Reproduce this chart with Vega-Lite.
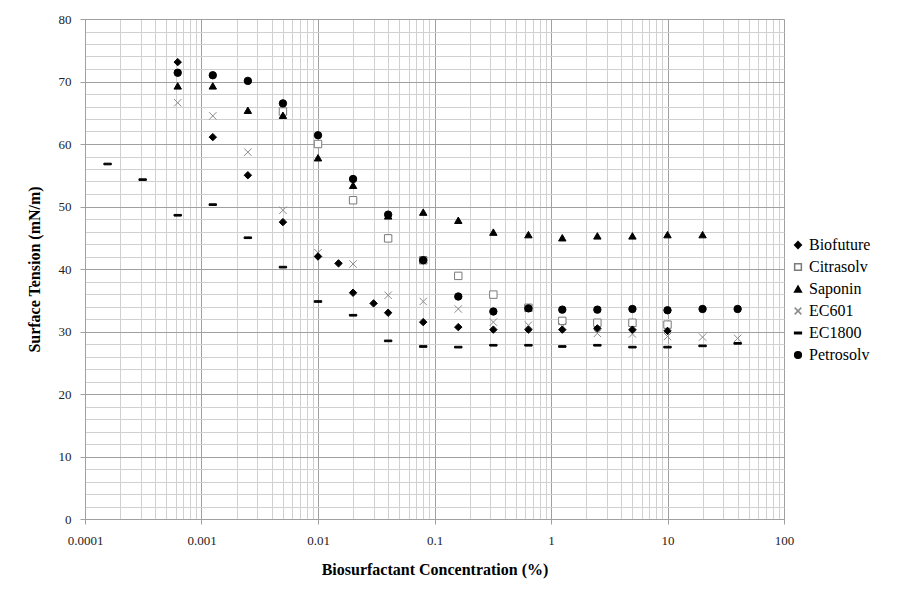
{
  "$schema": "https://vega.github.io/schema/vega-lite/v6.json",
  "width": 699,
  "height": 500,
  "autosize": {"type": "none"},
  "padding": {"left": 85, "top": 19, "right": 127, "bottom": 76},
  "background": "white",
  "config": {
    "view": {"stroke": null},
    "font": "'Liberation Serif', 'Times New Roman', serif",
    "axis": {"labelFont": "'Liberation Serif', 'Times New Roman', serif", "titleFont": "'Liberation Serif', 'Times New Roman', serif", "labelColor": "#222222", "titleColor": "black"},
    "legend": {"labelFont": "'Liberation Serif', 'Times New Roman', serif"}
  },
  "data": {"values": [
    {"series": "Citrasolv", "conc": 0.005, "st": 65.2},
    {"series": "Citrasolv", "conc": 0.01, "st": 60.0},
    {"series": "Citrasolv", "conc": 0.02, "st": 51.0},
    {"series": "Citrasolv", "conc": 0.04, "st": 44.9},
    {"series": "Citrasolv", "conc": 0.08, "st": 41.4},
    {"series": "Citrasolv", "conc": 0.16, "st": 38.9},
    {"series": "Citrasolv", "conc": 0.32, "st": 35.9},
    {"series": "Citrasolv", "conc": 0.64, "st": 33.8},
    {"series": "Citrasolv", "conc": 1.25, "st": 31.7},
    {"series": "Citrasolv", "conc": 2.5, "st": 31.4},
    {"series": "Citrasolv", "conc": 5, "st": 31.4},
    {"series": "Citrasolv", "conc": 10, "st": 31.1},
    {"series": "EC601", "conc": 0.000625, "st": 66.6},
    {"series": "EC601", "conc": 0.00125, "st": 64.5},
    {"series": "EC601", "conc": 0.0025, "st": 58.7},
    {"series": "EC601", "conc": 0.005, "st": 49.4},
    {"series": "EC601", "conc": 0.01, "st": 42.6},
    {"series": "EC601", "conc": 0.02, "st": 40.8},
    {"series": "EC601", "conc": 0.04, "st": 35.8},
    {"series": "EC601", "conc": 0.08, "st": 34.8},
    {"series": "EC601", "conc": 0.16, "st": 33.6},
    {"series": "EC601", "conc": 0.32, "st": 31.5},
    {"series": "EC601", "conc": 0.64, "st": 31.0},
    {"series": "EC601", "conc": 1.25, "st": 30.8},
    {"series": "EC601", "conc": 2.5, "st": 29.7},
    {"series": "EC601", "conc": 5, "st": 29.6},
    {"series": "EC601", "conc": 10, "st": 29.2},
    {"series": "EC601", "conc": 20, "st": 29.1},
    {"series": "EC601", "conc": 40, "st": 28.9},
    {"series": "EC1800", "conc": 0.00015625, "st": 56.8},
    {"series": "EC1800", "conc": 0.0003125, "st": 54.3},
    {"series": "EC1800", "conc": 0.000625, "st": 48.6},
    {"series": "EC1800", "conc": 0.00125, "st": 50.3},
    {"series": "EC1800", "conc": 0.0025, "st": 45.0},
    {"series": "EC1800", "conc": 0.005, "st": 40.3},
    {"series": "EC1800", "conc": 0.01, "st": 34.8},
    {"series": "EC1800", "conc": 0.02, "st": 32.6},
    {"series": "EC1800", "conc": 0.04, "st": 28.5},
    {"series": "EC1800", "conc": 0.08, "st": 27.6},
    {"series": "EC1800", "conc": 0.16, "st": 27.5},
    {"series": "EC1800", "conc": 0.32, "st": 27.8},
    {"series": "EC1800", "conc": 0.64, "st": 27.8},
    {"series": "EC1800", "conc": 1.25, "st": 27.6},
    {"series": "EC1800", "conc": 2.5, "st": 27.8},
    {"series": "EC1800", "conc": 5, "st": 27.5},
    {"series": "EC1800", "conc": 10, "st": 27.5},
    {"series": "EC1800", "conc": 20, "st": 27.7},
    {"series": "EC1800", "conc": 40, "st": 28.1},
    {"series": "Saponin", "conc": 0.000625, "st": 69.3},
    {"series": "Saponin", "conc": 0.00125, "st": 69.3},
    {"series": "Saponin", "conc": 0.0025, "st": 65.4},
    {"series": "Saponin", "conc": 0.005, "st": 64.6},
    {"series": "Saponin", "conc": 0.01, "st": 57.8},
    {"series": "Saponin", "conc": 0.02, "st": 53.4},
    {"series": "Saponin", "conc": 0.04, "st": 48.5},
    {"series": "Saponin", "conc": 0.08, "st": 49.1},
    {"series": "Saponin", "conc": 0.16, "st": 47.8},
    {"series": "Saponin", "conc": 0.32, "st": 45.9},
    {"series": "Saponin", "conc": 0.64, "st": 45.5},
    {"series": "Saponin", "conc": 1.25, "st": 45.0},
    {"series": "Saponin", "conc": 2.5, "st": 45.3},
    {"series": "Saponin", "conc": 5, "st": 45.3},
    {"series": "Saponin", "conc": 10, "st": 45.5},
    {"series": "Saponin", "conc": 20, "st": 45.5},
    {"series": "Biofuture", "conc": 0.000625, "st": 73.1},
    {"series": "Biofuture", "conc": 0.00125, "st": 61.1},
    {"series": "Biofuture", "conc": 0.0025, "st": 55.0},
    {"series": "Biofuture", "conc": 0.005, "st": 47.5},
    {"series": "Biofuture", "conc": 0.01, "st": 42.0},
    {"series": "Biofuture", "conc": 0.015, "st": 40.9},
    {"series": "Biofuture", "conc": 0.02, "st": 36.2},
    {"series": "Biofuture", "conc": 0.03, "st": 34.5},
    {"series": "Biofuture", "conc": 0.04, "st": 33.0},
    {"series": "Biofuture", "conc": 0.08, "st": 31.5},
    {"series": "Biofuture", "conc": 0.16, "st": 30.7},
    {"series": "Biofuture", "conc": 0.32, "st": 30.3},
    {"series": "Biofuture", "conc": 0.64, "st": 30.3},
    {"series": "Biofuture", "conc": 1.25, "st": 30.3},
    {"series": "Biofuture", "conc": 2.5, "st": 30.5},
    {"series": "Biofuture", "conc": 5, "st": 30.3},
    {"series": "Biofuture", "conc": 10, "st": 30.1},
    {"series": "Petrosolv", "conc": 0.000625, "st": 71.4},
    {"series": "Petrosolv", "conc": 0.00125, "st": 71.0},
    {"series": "Petrosolv", "conc": 0.0025, "st": 70.1},
    {"series": "Petrosolv", "conc": 0.005, "st": 66.5},
    {"series": "Petrosolv", "conc": 0.01, "st": 61.4},
    {"series": "Petrosolv", "conc": 0.02, "st": 54.4},
    {"series": "Petrosolv", "conc": 0.04, "st": 48.7},
    {"series": "Petrosolv", "conc": 0.08, "st": 41.4},
    {"series": "Petrosolv", "conc": 0.16, "st": 35.6},
    {"series": "Petrosolv", "conc": 0.32, "st": 33.2},
    {"series": "Petrosolv", "conc": 0.64, "st": 33.7},
    {"series": "Petrosolv", "conc": 1.25, "st": 33.5},
    {"series": "Petrosolv", "conc": 2.5, "st": 33.5},
    {"series": "Petrosolv", "conc": 5, "st": 33.6},
    {"series": "Petrosolv", "conc": 10, "st": 33.4},
    {"series": "Petrosolv", "conc": 20, "st": 33.6},
    {"series": "Petrosolv", "conc": 40, "st": 33.6}
  ]},
  "mark": {"type": "point", "size": 55, "strokeWidth": 1, "opacity": 1},
  "encoding": {
    "x": {
      "field": "conc", "type": "quantitative",
      "scale": {"type": "log", "domain": [0.0001, 100], "nice": false},
      "axis": {
        "title": "Biosurfactant Concentration (%)",
        "titleFontSize": 16, "titleFontWeight": "bold", "titlePadding": 14,
        "labelFontSize": 13, "labelPadding": 10, "labelOverlap": false, "labelBound": false, "labelFlush": false,
        "format": "~g",
        "values": [0.0001,0.0002,0.0003,0.0004,0.0005,0.0006,0.0007,0.0008,0.0009,0.001,0.002,0.003,0.004,0.005,0.006,0.007,0.008,0.009,0.01,0.02,0.03,0.04,0.05,0.06,0.07,0.08,0.09,0.1,0.2,0.3,0.4,0.5,0.6,0.7,0.8,0.9,1,2,3,4,5,6,7,8,9,10,20,30,40,50,60,70,80,90,100],
        "labelExpr": "indexof([0.0001,0.001,0.01,0.1,1,10,100], datum.value) >= 0 ? format(datum.value, '~g') : ''",
        "grid": true,
        "gridColor": {"condition": {"test": "indexof([0.0001,0.001,0.01,0.1,1,10,100], datum.value) >= 0", "value": "#a0a0a0"}, "value": "#d0d0d0"},
        "gridWidth": 1,
        "ticks": true, "tickSize": 5,
        "tickColor": {"condition": {"test": "indexof([0.0001,0.001,0.01,0.1,1,10,100], datum.value) >= 0", "value": "#a0a0a0"}, "value": "transparent"},
        "domainColor": "#a0a0a0"
      }
    },
    "y": {
      "field": "st", "type": "quantitative",
      "scale": {"domain": [0, 80], "nice": false, "zero": true},
      "axis": {
        "title": "Surface Tension (mN/m)",
        "titleFontSize": 16, "titleFontWeight": "bold", "titlePadding": 16,
        "labelFontSize": 13, "labelPadding": 9, "labelOverlap": false, "labelBound": false,
        "values": [0,2,4,6,8,10,12,14,16,18,20,22,24,26,28,30,32,34,36,38,40,42,44,46,48,50,52,54,56,58,60,62,64,66,68,70,72,74,76,78,80],
        "labelExpr": "datum.value % 10 === 0 ? datum.label : ''",
        "grid": true,
        "gridColor": {"condition": {"test": "datum.value % 10 === 0", "value": "#a0a0a0"}, "value": "#d0d0d0"},
        "ticks": true, "tickSize": 5,
        "tickColor": {"condition": {"test": "datum.value % 10 === 0", "value": "#a0a0a0"}, "value": "transparent"},
        "domainColor": "#a0a0a0"
      }
    },
    "shape": {
      "field": "series", "type": "nominal",
      "scale": {
        "domain": ["Biofuture", "Citrasolv", "Saponin", "EC601", "EC1800", "Petrosolv"],
        "range": ["diamond", "square", "triangle-up", "M-1,-1L1,1M-1,1L1,-1", "M-1,-0.22L1,-0.22L1,0.22L-1,0.22Z", "circle"]
      },
      "legend": {
        "title": null, "orient": "none", "legendX": 705, "legendY": 218,
        "labelFontSize": 16, "labelColor": "black", "symbolSize": 45, "rowPadding": 6, "padding": 0, "labelOffset": 3
      }
    },
    "fill": {
      "field": "series", "type": "nominal",
      "scale": {
        "domain": ["Biofuture", "Citrasolv", "Saponin", "EC601", "EC1800", "Petrosolv"],
        "range": ["black", "white", "black", "transparent", "black", "black"]
      },
      "legend": null
    },
    "stroke": {
      "field": "series", "type": "nominal",
      "scale": {
        "domain": ["Biofuture", "Citrasolv", "Saponin", "EC601", "EC1800", "Petrosolv"],
        "range": ["black", "#7a7a7a", "black", "#8a8a8a", "black", "black"]
      },
      "legend": null
    }
  }
}
